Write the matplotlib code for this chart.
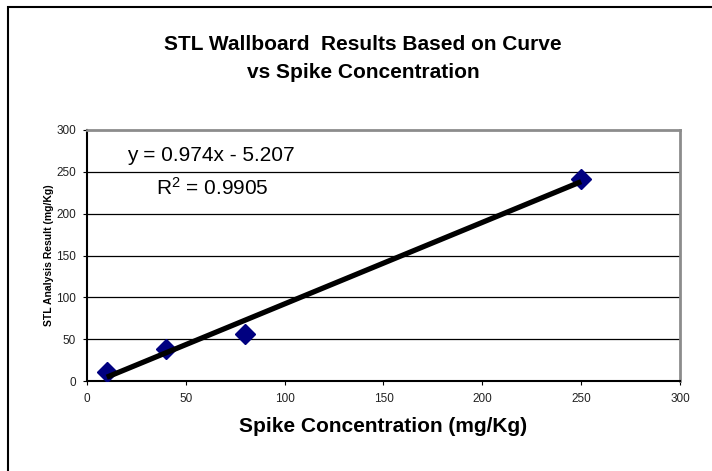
import numpy as np
import matplotlib.pyplot as plt
from matplotlib.patches import Rectangle

plt.rcParams['font.family'] = ['Liberation Sans', 'DejaVu Sans']

# spike concentration vs STL analysis result (mg/Kg)
spike = [10, 40, 80, 250]
result = [11, 38, 56, 241]

# linear trendline coefficients
slope = 0.974
intercept = -5.207
r_squared = 0.9905

x_ticks = [0, 50, 100, 150, 200, 250, 300]
y_ticks = [0, 50, 100, 150, 200, 250, 300]

fig = plt.figure(figsize=(7.12, 4.71), dpi=100)
ax = fig.add_axes([87 / 712, 1 - 381 / 471, (680 - 87) / 712, (381 - 130) / 471])

# outer chart border (runs past the right and bottom edges)
fig.patches.append(Rectangle((7.5 / 712, -0.2), 1.5, 1.2 - 6.5 / 471, transform=fig.transFigure,
                             fill=False, edgecolor='black', linewidth=1.5, clip_on=False))

ax.set_xlim(0, 300)
ax.set_ylim(0, 300)
ax.set_xticks(x_ticks)
ax.set_yticks(y_ticks)
ax.tick_params(labelsize=8.5, length=3, width=0.8, color='black', labelcolor='#222222')
ax.tick_params(axis='x', pad=6)
ax.tick_params(axis='y', pad=5)

for y in y_ticks[1:-1]:
    ax.axhline(y, color='black', linewidth=0.9, zorder=1)

for side in ['top', 'right']:
    ax.spines[side].set_color('#8c8c8c')
    ax.spines[side].set_linewidth(2)
for side in ['left', 'bottom']:
    ax.spines[side].set_color('black')
    ax.spines[side].set_linewidth(1.5)

ax.plot(spike, result, linestyle='none', marker='D', markersize=10.5,
        color='#000080', zorder=3)

trend_x = np.array([min(spike), max(spike)])
ax.plot(trend_x, slope * trend_x + intercept, color='black', linewidth=3.8,
        solid_capstyle='butt', zorder=4)

ax.text(20, 269, 'y = %.3fx - %.3f' % (slope, abs(intercept)), fontsize=15, va='center')
ax.text(35, 231, '$\\mathregular{R^2}$ = %.4f' % r_squared, fontsize=15, va='center')

ax.set_xlabel('Spike Concentration (mg/Kg)', fontsize=15, fontweight='bold', labelpad=8)
ax.set_ylabel('STL Analysis Result (mg/Kg)', fontsize=7.5, fontweight='bold', labelpad=1.5)

fig.text(0.510, 1 - 44 / 471, 'STL Wallboard  Results Based on Curve',
         ha='center', va='center', fontsize=15, fontweight='bold')
fig.text(0.510, 1 - 72 / 471, 'vs Spike Concentration',
         ha='center', va='center', fontsize=15, fontweight='bold')

fig.savefig('out.png', dpi=100)
